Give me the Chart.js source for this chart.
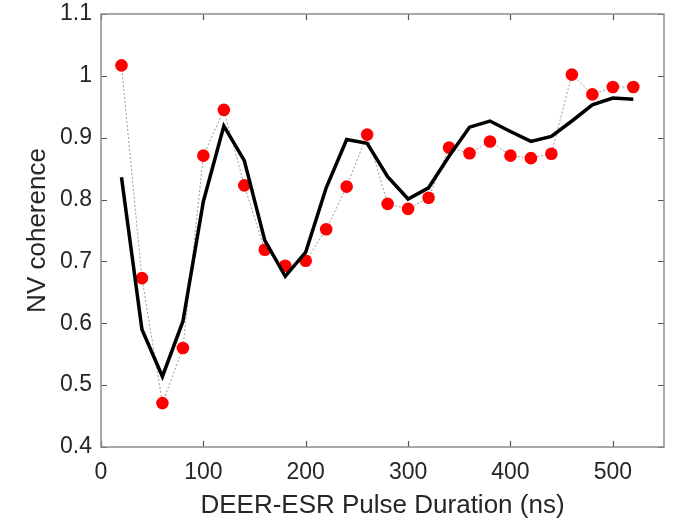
<!DOCTYPE html>
<html>
<head>
<meta charset="utf-8">
<script src="https://cdn.jsdelivr.net/npm/chart.js@4"></script>
<style>
  html, body { margin: 0; padding: 0; background: #fff; }
  #wrap { width: 674px; height: 520px; position: relative; }
</style>
</head>
<body>
<div id="wrap"><canvas id="c"></canvas></div>
<script>
// ---- data ----
const durations = [20, 40, 60, 80, 100, 120, 140, 160, 180, 200, 220, 240, 260,
                   280, 300, 320, 340, 360, 380, 400, 420, 440, 460, 480, 500, 520];
const measured = [1.017, 0.673, 0.471, 0.560, 0.871, 0.945, 0.823, 0.719, 0.693, 0.701, 0.752, 0.821, 0.905,
                  0.793, 0.785, 0.803, 0.884, 0.875, 0.894, 0.871, 0.867, 0.874, 1.002, 0.970, 0.982, 0.982];
const fitted = [0.836, 0.590, 0.514, 0.603, 0.797, 0.919, 0.863, 0.734, 0.676, 0.715, 0.819, 0.897, 0.891,
                0.837, 0.801, 0.819, 0.870, 0.917, 0.927, 0.910, 0.894, 0.902, 0.927, 0.953, 0.964, 0.962];
const xTicks = [0, 100, 200, 300, 400, 500];
const yTicks = [0.4, 0.5, 0.6, 0.7, 0.8, 0.9, 1.0, 1.1];

const textColor = '#262626';
const FONT = "'Liberation Sans', Arial, Helvetica, sans-serif";

const boxPlugin = {
  id: 'box',
  afterDraw(chart) {
    const {ctx, chartArea: a, scales: {x, y}} = chart;
    ctx.save();
    ctx.lineWidth = 1.2;
    ctx.strokeStyle = '#555';
    const tl = 6;
    ctx.beginPath();
    x.ticks.forEach(t => {
      const px = Math.round(x.getPixelForValue(t.value)) + 0.5;
      ctx.moveTo(px, a.bottom); ctx.lineTo(px, a.bottom - tl);
      ctx.moveTo(px, a.top); ctx.lineTo(px, a.top + tl);
    });
    y.ticks.forEach(t => {
      const py = Math.round(y.getPixelForValue(t.value)) + 0.5;
      ctx.moveTo(a.left, py); ctx.lineTo(a.left + tl, py);
      ctx.moveTo(a.right, py); ctx.lineTo(a.right - tl, py);
    });
    ctx.stroke();
    ctx.strokeStyle = '#8c8c8c';
    ctx.lineWidth = 1.5;
    ctx.strokeRect(a.left, a.top, a.right - a.left, a.bottom - a.top);
    ctx.restore();
  }
};

new Chart(document.getElementById('c'), {
  type: 'line',
  data: {
    datasets: [
      {
        label: 'fit',
        data: durations.map((d, i) => ({x: d, y: fitted[i]})),
        borderColor: '#000',
        borderWidth: 3.5,
        pointRadius: 0,
        tension: 0,
        fill: false,
        order: 0
      },
      {
        label: 'measured',
        data: durations.map((d, i) => ({x: d, y: measured[i]})),
        borderColor: '#9a9a9a',
        borderWidth: 1,
        borderDash: [2, 2],
        pointRadius: 6.3,
        pointBackgroundColor: '#ff0000',
        pointBorderWidth: 0,
        pointBorderColor: '#ff0000',
        tension: 0,
        fill: false,
        order: 1
      }
    ]
  },
  options: {
    responsive: true,
    maintainAspectRatio: false,
    animation: false,
    events: [],
    layout: { padding: { top: 14, right: 10, left: 0, bottom: 0 } },
    plugins: { legend: { display: false }, tooltip: { enabled: false } },
    scales: {
      x: {
        type: 'linear',
        min: 0, max: 550,
        afterBuildTicks: s => { s.ticks = xTicks.map(v => ({value: v})); },
        afterFit: s => { s.height = 73; s.paddingLeft = 0; s.paddingRight = 0; },
        grid: { display: false, drawTicks: false },
        border: { display: false },
        ticks: {
          color: textColor,
          font: { family: FONT, size: 23 },
          padding: 12,
          maxRotation: 0,
          callback: v => String(v)
        },
        title: {
          display: true,
          text: 'DEER-ESR Pulse Duration (ns)',
          color: textColor,
          font: { family: FONT, size: 26, lineHeight: 1.2 },
          padding: { top: 0, bottom: -1 }
        }
      },
      y: {
        type: 'linear',
        min: 0.4, max: 1.1,
        afterBuildTicks: s => { s.ticks = yTicks.map(v => ({value: v})); },
        afterFit: s => { s.width = 101; s.paddingTop = 0; s.paddingBottom = 0; },
        grid: { display: false, drawTicks: false },
        border: { display: false },
        ticks: {
          color: textColor,
          font: { family: FONT, size: 23 },
          padding: 9,
          callback: v => String(Number(v.toFixed(1)))
        },
        title: {
          display: true,
          text: 'NV coherence',
          color: textColor,
          font: { family: FONT, size: 26, lineHeight: 1.2 },
          padding: { top: 22, bottom: 0 }
        }
      }
    }
  },
  plugins: [boxPlugin]
});
</script>
</body>
</html>
